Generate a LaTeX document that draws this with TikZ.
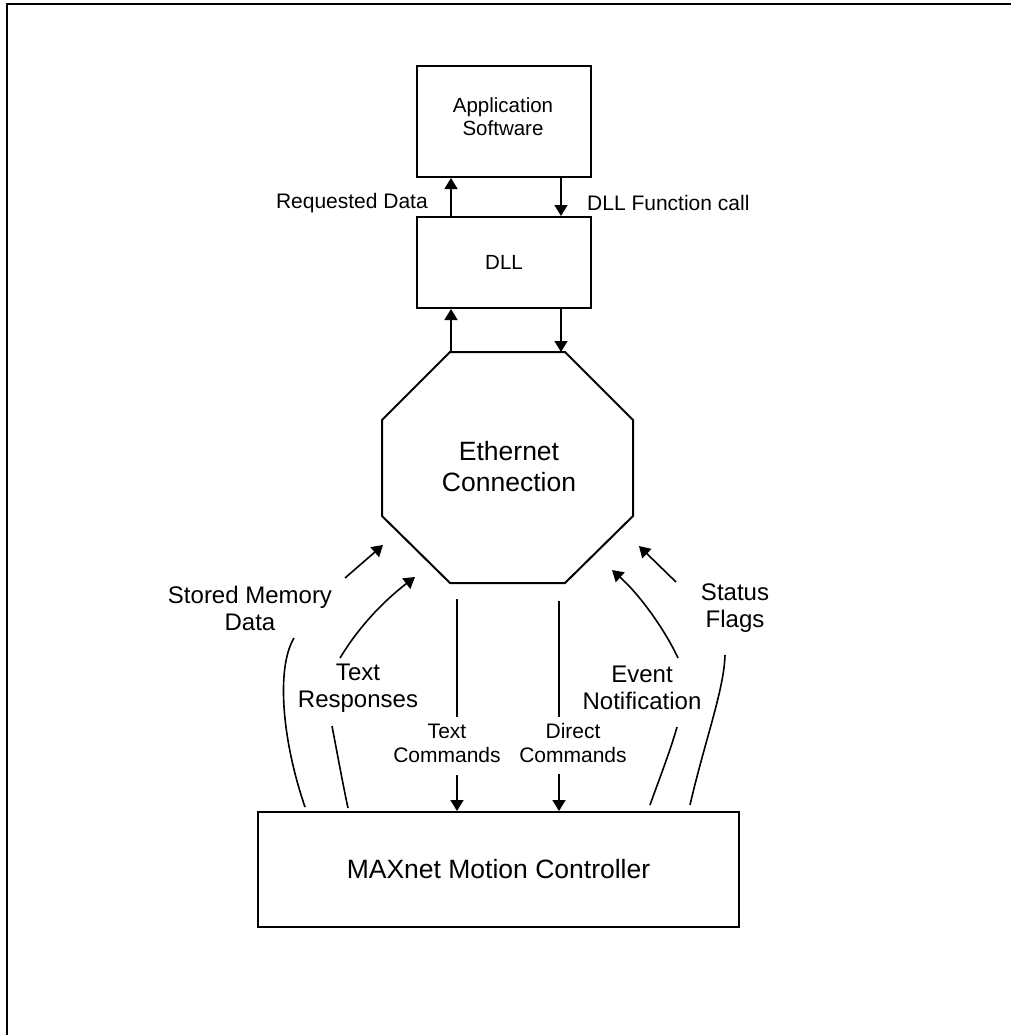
\documentclass[tikz,border=0pt]{standalone}
\usepackage{fontspec}
\setmainfont{Liberation Sans}
\usetikzlibrary{arrows.meta}
\begin{document}
\begin{tikzpicture}[x=1pt,y=-1pt,
  boxnode/.style={draw,line width=2pt,inner sep=0pt,align=center},
  arr/.style={line width=1.6pt,-{Triangle[width=13pt,length=11pt]}},
  plain/.style={line width=1.6pt},
  lbl/.style={inner sep=0pt,align=center,font=\fontsize{21}{24}\selectfont},
  sidelbl/.style={inner sep=0pt,align=center,font=\fontsize{24}{27}\selectfont}]
\useasboundingbox (0,0) rectangle (1011,1035);
% frame
\draw[line width=2pt] (1011,4) -- (7,4) -- (7,1035);
% boxes
\node[boxnode,minimum width=174pt,minimum height=111pt] (app) at (504,121.5) {};
\node[inner sep=0pt,align=center,font=\fontsize{20.5}{23}\selectfont] (appt) at (503,117) {Application\\Software};
\node[boxnode,minimum width=174pt,minimum height=91pt,font=\fontsize{20.5}{23}\selectfont] (dll) at (504,262.5) {DLL};
\node[boxnode,minimum width=481pt,minimum height=115pt,font=\fontsize{26.5}{30}\selectfont] (mc) at (498.5,869.5) {MAXnet Motion Controller};
% octagon
\coordinate (o1) at (450,352);
\coordinate (o2) at (565,352);
\coordinate (o3) at (633,420);
\coordinate (o4) at (633,516);
\coordinate (o5) at (565,583);
\coordinate (o6) at (450,583);
\coordinate (o7) at (382,516);
\coordinate (o8) at (382,420);
\draw[line width=2pt,line join=miter] (o1) -- (o2) -- (o3) -- (o4) -- (o5) -- (o6) -- (o7) -- (o8) -- cycle;
\node[inner sep=0pt,align=center,font=\fontsize{26.5}{31}\selectfont] (eth) at (509,467) {Ethernet\\Connection};
% app <-> dll
\coordinate (xL) at (451,0);
\coordinate (xR) at (561,0);
\draw[arr] (xL |- dll.north) -- (xL |- app.south);
\draw[arr] (xR |- app.south) -- (xR |- dll.north);
\node[lbl,anchor=east] (rd) at (428,203) {Requested Data};
\node[lbl,anchor=west] (fc) at (587,203) {DLL Function call};
% dll <-> ethernet
\draw[arr] (xL |- o1) -- (xL |- dll.south);
\draw[arr] (xR |- dll.south) -- (xR |- o1);
% text commands
\node[lbl] (tc) at (447,743) {Text\\Commands};
\coordinate (tc1) at (457,599);
\coordinate (tc2) at (457,717);
\coordinate (tc3) at (457,775);
\draw[plain] (tc1) -- (tc2);
\draw[arr] (tc3) -- (tc3 |- mc.north);
% direct commands
\node[lbl] (dc) at (573,743) {Direct\\Commands};
\coordinate (dc1) at (559,601);
\coordinate (dc2) at (559,717);
\coordinate (dc3) at (559,774);
\draw[plain] (dc1) -- (dc2);
\draw[arr] (dc3) -- (dc3 |- mc.north);
% stored memory data
\node[sidelbl] (smd) at (250,608) {Stored Memory\\Data};
\coordinate (sm1) at (305,807);
\coordinate (sm2) at (294,638);
\coordinate (sm3) at (345,578);
\coordinate (sm4) at (383,545);
\draw[plain] (sm1) .. controls (282,740) and (276,668) .. (sm2);
\draw[arr] (sm3) -- (sm4);
% text responses
\node[sidelbl] (tr) at (358,688) {Text\\Responses};
\coordinate (tr1) at (348,808);
\coordinate (tr2) at (332,726);
\coordinate (tr3) at (340,658);
\coordinate (tr4) at (415,577);
\draw[plain] (tr1) .. controls (343,785) and (337,752) .. (tr2);
\draw[arr] (tr3) .. controls (360,625) and (385,600) .. (tr4);
% event notification
\node[sidelbl] (en) at (642,688) {Event\\Notification};
\coordinate (en1) at (650,805);
\coordinate (en2) at (677,727);
\coordinate (en3) at (678,658);
\coordinate (en4) at (612,570);
\draw[plain] (en1) .. controls (657,785) and (670,752) .. (en2);
\draw[arr] (en3) .. controls (665,630) and (640,595) .. (en4);
% status flags
\node[sidelbl] (sf) at (735,608) {Status\\Flags};
\coordinate (sf1) at (690,805);
\coordinate (sf2) at (725,655);
\coordinate (sf3) at (676,582);
\coordinate (sf4) at (639,546);
\draw[plain] (sf1) .. controls (705,740) and (724,690) .. (sf2);
\draw[arr] (sf3) -- (sf4);
\end{tikzpicture}
\end{document}
